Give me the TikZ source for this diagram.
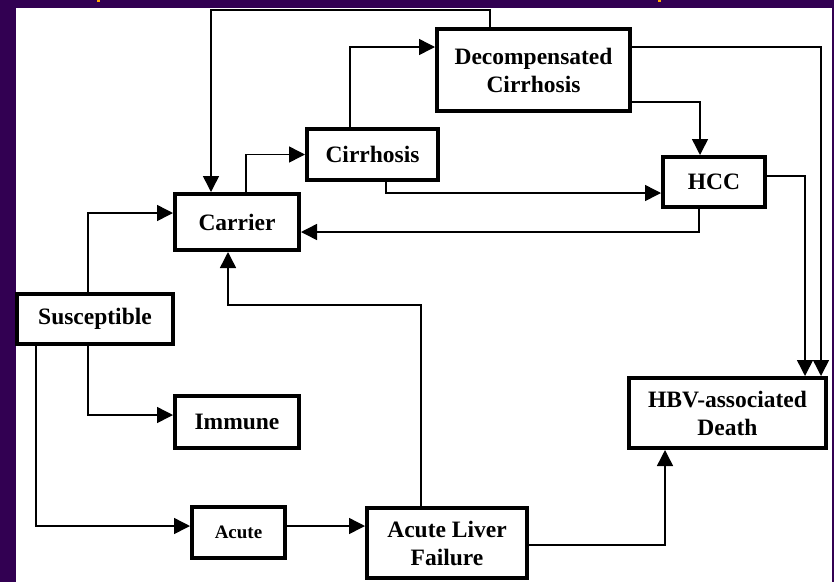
\documentclass[tikz,border=0pt]{standalone}
\usepackage{fontspec}
\setmainfont{Liberation Serif}
\usetikzlibrary{arrows.meta,calc}
\definecolor{bgpurple}{RGB}{50,0,82}
\definecolor{titleorange}{RGB}{255,170,0}
\tikzset{
  box/.style={draw=black, line width=4pt, fill=white, inner sep=0pt, align=center,
    font=\fontsize{23.5}{28}\selectfont\bfseries},
  arr/.style={line width=1.5pt, -{Triangle[length=16pt,width=16pt]}}
}
\begin{document}
\begin{tikzpicture}[x=1pt,y=-1pt]
\useasboundingbox (0,0) rectangle (834,582);
\fill[bgpurple] (0,0) rectangle (834,582);
\fill[white] (16,8) rectangle (832,582);
\fill[titleorange] (97,0) rectangle (100,2);
\fill[titleorange] (658,0) rectangle (661,2);

\node[box, minimum width=193pt, minimum height=82pt] (decomp) at (533.5,70) {Decompensated\\Cirrhosis};
\node[box, minimum width=131pt, minimum height=51pt] (cirr) at (372.5,154.5) {Cirrhosis};
\node[box, minimum width=102pt, minimum height=50pt] (hcc) at (714,182) {HCC};
\node[box, minimum width=124pt, minimum height=56pt] (carrier) at (237,222) {Carrier};
\node[box, minimum width=156pt, minimum height=50pt] (sus) at (95,319) {Susceptible};
\node[box, minimum width=124pt, minimum height=52pt] (immune) at (237,422) {Immune};
\node[box, minimum width=93pt, minimum height=51pt, font=\fontsize{19}{22}\selectfont\bfseries] (acute) at (238.5,532.5) {Acute};
\node[box, minimum width=160pt, minimum height=70pt] (alf) at (447,543) {Acute Liver\\Failure};
\node[box, minimum width=197pt, minimum height=70pt] (hbv) at (727.5,413) {HBV-associated\\Death};

\coordinate (t1) at (211,10);
\coordinate (c305) at (228,305);

% Decompensated -> Carrier (over the top)
\draw[arr] ([xshift=-43.5pt]decomp.north) |- (t1) -- ([xshift=-26pt]carrier.north);
% Cirrhosis -> Decompensated
\draw[arr] ([xshift=-22.5pt]cirr.north) |- ([yshift=23pt]decomp.west);
% Decompensated -> HBV death
\draw[arr] ([yshift=23pt]decomp.east) -| ([xshift=93.5pt]hbv.north);
% Decompensated -> HCC
\draw[arr] ([yshift=-32pt]decomp.east) -| ([xshift=-14pt]hcc.north);
% Carrier -> Cirrhosis
\draw[arr] ([xshift=9pt]carrier.north) |- (cirr.west);
% Cirrhosis -> HCC
\draw[arr] ([xshift=13.5pt]cirr.south) |- ([yshift=-11pt]hcc.west);
% HCC -> Carrier
\draw[arr] ([xshift=-15pt]hcc.south) |- ([yshift=-10pt]carrier.east);
% HCC -> HBV death
\draw[arr] ([yshift=6pt]hcc.east) -| ([xshift=77.5pt]hbv.north);
% Susceptible -> Carrier
\draw[arr] ([xshift=-7pt]sus.north) |- ([yshift=9pt]carrier.west);
% Susceptible -> Immune
\draw[arr] ([xshift=-7pt]sus.south) |- ([yshift=7pt]immune.west);
% Susceptible -> Acute
\draw[arr] ([xshift=-59pt]sus.south) |- ([yshift=6.5pt]acute.west);
% Acute -> Acute Liver Failure
\draw[arr] ([yshift=6.5pt]acute.east) -- ([yshift=17pt]alf.west);
% Acute Liver Failure -> Carrier
\draw[arr] ([xshift=-26pt]alf.north) |- (c305) -- ([xshift=-9pt]carrier.south);
% Acute Liver Failure -> HBV death
\draw[arr] ([yshift=-2pt]alf.east) -| ([xshift=-62.5pt]hbv.south);
\end{tikzpicture}
\end{document}
